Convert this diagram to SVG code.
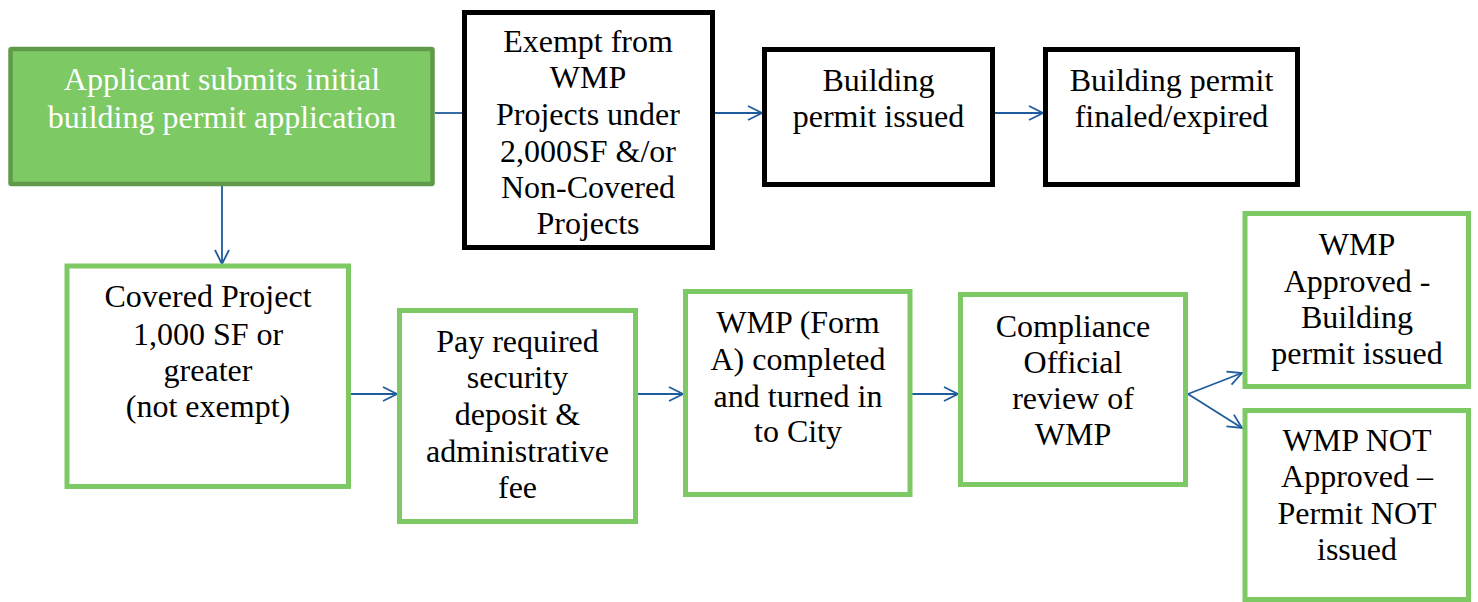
<svg xmlns="http://www.w3.org/2000/svg" width="1478" height="602" viewBox="0 0 1478 602">
<style>
.t{font-family:'Liberation Serif','Tinos','Times New Roman','DejaVu Serif',serif;font-size:32px;text-anchor:middle;fill:#000}
.w{fill:#fff}
.g{fill:#fff;stroke:#7dc964;stroke-width:5}
.k{fill:#fff;stroke:#000;stroke-width:5}
.c{fill:none;stroke:#1f5c9e;stroke-width:1.8}
</style>
<defs>
<marker id="ah" markerUnits="userSpaceOnUse" markerWidth="20" markerHeight="20" refX="15" refY="8" orient="auto" viewBox="0 0 20 16">
<path d="M1,1 L15,8 L1,15" fill="none" stroke="#1f5c9e" stroke-width="1.8"/>
</marker>
</defs>
<g id="connectors">
<line class="c" x1="435" y1="113" x2="462" y2="113"/>
<line class="c" x1="715" y1="113" x2="762" y2="113" marker-end="url(#ah)"/>
<line class="c" x1="995" y1="113" x2="1043" y2="113" marker-end="url(#ah)"/>
<line class="c" x1="222" y1="186" x2="222" y2="264" marker-end="url(#ah)"/>
<line class="c" x1="350" y1="394" x2="397" y2="394" marker-end="url(#ah)"/>
<line class="c" x1="638" y1="394" x2="683" y2="394" marker-end="url(#ah)"/>
<line class="c" x1="912" y1="394" x2="958" y2="394" marker-end="url(#ah)"/>
<line class="c" x1="1188" y1="394" x2="1242" y2="373" marker-end="url(#ah)"/>
<line class="c" x1="1188" y1="394" x2="1242" y2="428" marker-end="url(#ah)"/>
</g>
<g id="n1">
<rect x="10.5" y="49" width="422" height="135" fill="#7dc964" stroke="#5f9a4a" stroke-width="4.5" rx="1"/>
<text class="t w" x="222" y="90">Applicant submits initial</text>
<text class="t w" x="222" y="128">building permit application</text>
</g>
<g id="n2">
<rect class="k" x="464.5" y="12.5" width="248" height="235"/>
<text class="t" x="588" y="52">Exempt from</text>
<text class="t" x="588" y="88">WMP</text>
<text class="t" x="588" y="125">Projects under</text>
<text class="t" x="588" y="162">2,000SF &amp;/or</text>
<text class="t" x="588" y="198">Non-Covered</text>
<text class="t" x="588" y="234">Projects</text>
</g>
<g id="n3">
<rect class="k" x="764.5" y="49.5" width="228" height="135"/>
<text class="t" x="878.5" y="91">Building</text>
<text class="t" x="878.5" y="127">permit issued</text>
</g>
<g id="n4">
<rect class="k" x="1045.5" y="49.5" width="252" height="135"/>
<text class="t" x="1171.5" y="91">Building permit</text>
<text class="t" x="1171.5" y="127">finaled/expired</text>
</g>
<g id="n5">
<rect class="g" x="67" y="266" width="281.5" height="220.5"/>
<text class="t" x="208" y="307">Covered Project</text>
<text class="t" x="208" y="345">1,000 SF or</text>
<text class="t" x="208" y="381">greater</text>
<text class="t" x="208" y="417">(not exempt)</text>
</g>
<g id="n6">
<rect class="g" x="399.5" y="310.5" width="236" height="211"/>
<text class="t" x="517.5" y="352">Pay required</text>
<text class="t" x="517.5" y="388">security</text>
<text class="t" x="517.5" y="425">deposit &amp;</text>
<text class="t" x="517.5" y="462">administrative</text>
<text class="t" x="517.5" y="498">fee</text>
</g>
<g id="n7">
<rect class="g" x="685.5" y="291.5" width="224.5" height="203"/>
<text class="t" x="798" y="333">WMP (Form</text>
<text class="t" x="798" y="370">A) completed</text>
<text class="t" x="798" y="407">and turned in</text>
<text class="t" x="798" y="442">to City</text>
</g>
<g id="n8">
<rect class="g" x="960.5" y="294.5" width="225" height="190"/>
<text class="t" x="1073" y="337">Compliance</text>
<text class="t" x="1073" y="373">Official</text>
<text class="t" x="1073" y="409">review of</text>
<text class="t" x="1073" y="445">WMP</text>
</g>
<g id="n9">
<rect class="g" x="1245" y="213.5" width="223.5" height="173"/>
<text class="t" x="1357" y="255">WMP</text>
<text class="t" x="1357" y="292">Approved -</text>
<text class="t" x="1357" y="328">Building</text>
<text class="t" x="1357" y="364">permit issued</text>
</g>
<g id="n10">
<rect class="g" x="1245" y="410.5" width="223.5" height="189"/>
<text class="t" x="1357" y="451">WMP NOT</text>
<text class="t" x="1357" y="487">Approved –</text>
<text class="t" x="1357" y="524">Permit NOT</text>
<text class="t" x="1357" y="560">issued</text>
</g>
</svg>
